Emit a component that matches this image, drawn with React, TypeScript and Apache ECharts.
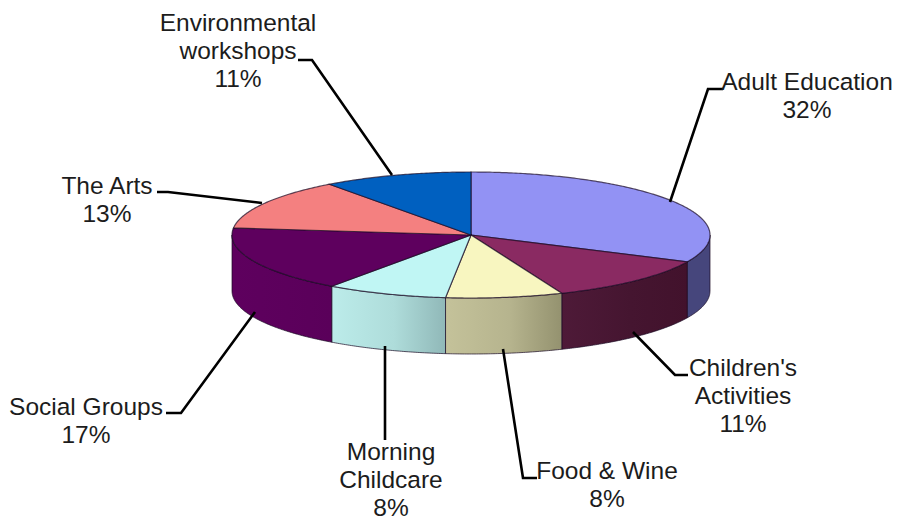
import React, { useEffect, useRef } from "react";
import * as echarts from "echarts";

const categories = ["Adult Education", "Children's Activities", "Food & Wine", "Morning Childcare", "Social Groups", "The Arts", "Environmental workshops"];
const sliceValues = [32, 11.8, 7.9, 8.2, 16.9, 13.1, 10.1];
const labelLines = [
  ["Adult Education", "32%"],
  ["Children's", "Activities", "11%"],
  ["Food & Wine", "8%"],
  ["Morning", "Childcare", "8%"],
  ["Social Groups", "17%"],
  ["The Arts", "13%"],
  ["Environmental", "workshops", "11%"],
];
const topColors = ["#9292F4", "#8A2A62", "#F8F6C0", "#C0F6F4", "#5E005E", "#F48080", "#0060C0"];
const wallFrom = ["#46467C", "#4E1A38", "#C4C29A", "#BCECEA", "#5E005E", "#F48080", "#0060C0"];
const wallMid = ["#46467C", "#451530", "#B6B48E", "#AEDCDA", "#5C005C", "#F48080", "#0060C0"];
const wallTo = ["#46467C", "#42122C", "#94926F", "#90B8B8", "#5A005A", "#F48080", "#0060C0"];

// x centre and first-line y centre of each label
const labelAnchors = [
  [807, 81], [743, 367], [607, 470], [391, 451], [86, 406], [107, 185], [238, 22],
];
const LINE_GAP = 28.4;
const leaders = [
  [[723, 89], [708, 89], [670, 202]],
  [[688, 375], [675, 375], [633, 332]],
  [[537, 478], [523, 478], [503, 349]],
  [[385, 440], [385, 346]],
  [[166, 413], [181, 413], [255, 312]],
  [[157, 192], [168, 192], [262, 203]],
  [[298, 60], [312, 60], [392, 175]],
];

const CX = 471, CY = 235, RX = 239, RY = 63, DEPTH = 56;
const total = sliceValues.reduce((a, b) => a + b, 0);
const startFrac = (i: number) => sliceValues.slice(0, i).reduce((a, b) => a + b, 0) / total;
const pt = (a: number, dy = 0) => [CX + RX * Math.sin(a), CY - RY * Math.cos(a) + dy];
const arcPts = (a0: number, a1: number, dy = 0) => {
  const n = Math.max(2, Math.ceil((a1 - a0) / 0.01));
  const out: number[][] = [];
  for (let k = 0; k <= n; k++) out.push(pt(a0 + ((a1 - a0) * k) / n, dy));
  return out;
};

export default function App() {
  const ref = useRef<HTMLDivElement>(null);
  useEffect(() => {
    const chart = echarts.init(ref.current!, undefined, { renderer: "svg" });
    const edge = "rgba(25,10,35,0.7)";
    const sliceData = categories.map((name, i) => ({ name, value: sliceValues[i] }));
    chart.setOption({
      animation: false,
      backgroundColor: "#ffffff",
      series: [
        {
          type: "custom",
          coordinateSystem: "none",
          silent: true,
          z: 1,
          data: sliceData,
          renderItem: (params: any, api: any) => {
            const i = params.dataIndex;
            const a0 = startFrac(i) * 2 * Math.PI;
            const a1 = a0 + (api.value(0) / total) * 2 * Math.PI;
            const s = Math.max(a0, Math.PI / 2);
            const e = Math.min(a1, (3 * Math.PI) / 2);
            if (e <= s) return { type: "group", children: [] };
            const points = [...arcPts(s, e), ...arcPts(s, e, DEPTH).reverse()];
            return {
              type: "polygon",
              shape: { points },
              style: {
                fill: new echarts.graphic.LinearGradient(0, 0, 1, 0, [
                  { offset: 0, color: wallFrom[i] },
                  { offset: 0.55, color: wallMid[i] },
                  { offset: 1, color: wallTo[i] },
                ]),
                stroke: edge,
                lineWidth: 1,
              },
            };
          },
        },
        {
          type: "custom",
          coordinateSystem: "none",
          silent: true,
          z: 2,
          data: sliceData,
          renderItem: (params: any, api: any) => {
            const i = params.dataIndex;
            const a0 = startFrac(i) * 2 * Math.PI;
            const a1 = a0 + (api.value(0) / total) * 2 * Math.PI;
            return {
              type: "polygon",
              shape: { points: [[CX, CY], ...arcPts(a0, a1)] },
              style: { fill: topColors[i], stroke: edge, lineWidth: 1.2 },
            };
          },
        },
      ],
      graphic: {
        elements: [
          ...leaders.map((points) => ({
            type: "polyline",
            z: 5,
            silent: true,
            shape: { points },
            style: { stroke: "#000000", lineWidth: 2.6, fill: "none" },
          })),
          ...labelLines.flatMap((lines, i) =>
            lines.map((text, k) => ({
              type: "text",
              z: 6,
              silent: true,
              x: labelAnchors[i][0],
              y: labelAnchors[i][1] + k * LINE_GAP,
              style: {
                text,
                fill: "#1c1c1c",
                font: '24.5px "Liberation Sans", Arial, sans-serif',
                align: "center",
                verticalAlign: "middle",
              },
            }))
          ),
        ],
      },
    });
    return () => chart.dispose();
  }, []);
  return <div ref={ref} style={{ width: 901, height: 520, position: "absolute", left: 0, top: 0 }} />;
}
